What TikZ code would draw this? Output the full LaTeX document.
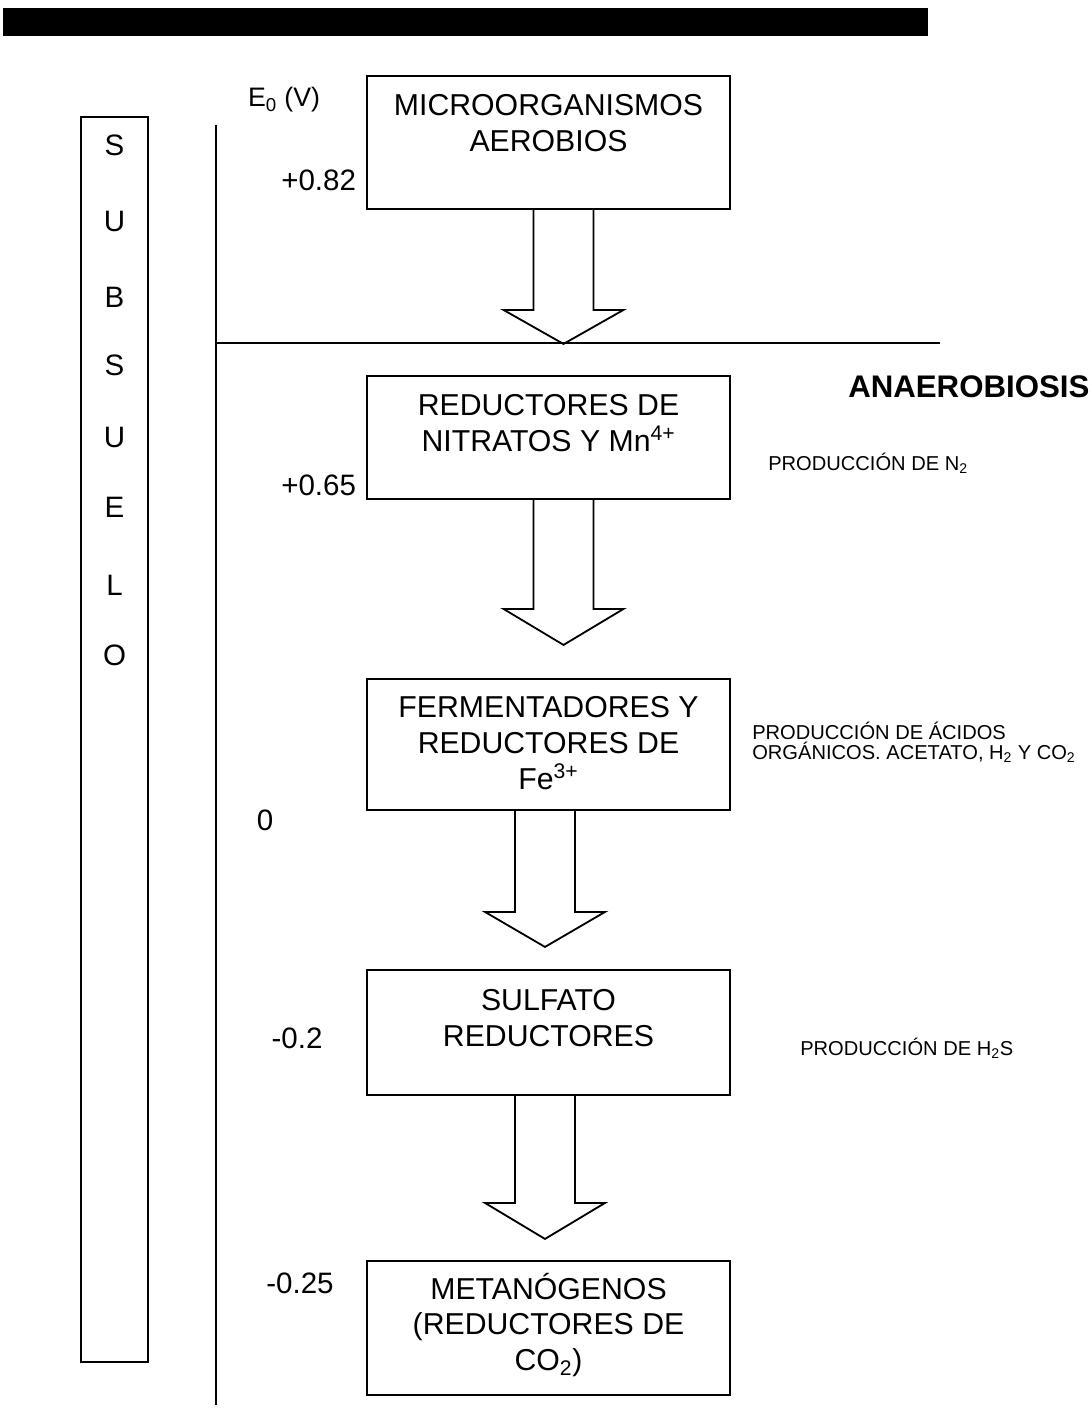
\documentclass[tikz,border=0pt]{standalone}
\usepackage{fontspec}
\setmainfont{Liberation Sans}
\usetikzlibrary{calc}

\newcommand{\flecha}[4]{%
  \draw[linea] ($(#1.south)+(#2-30,0)$) -- ++(0,#3) -- ++(-30,0) -- ++(60,#4)
    -- ++(60,-#4) -- ++(-30,0) -- ($(#1.south)+(#2+30,0)$);}

\begin{document}
\begin{tikzpicture}[x=0.025cm,y=-0.025cm,
    linea/.style={line width=1.3pt},
    caja/.style={draw,line width=1.3pt,minimum width=9.075cm},
    rotulo/.style={align=center,font=\fontsize{21.5}{25.5}\selectfont},
    valor/.style={font=\fontsize{21}{25}\selectfont},
    nota/.style={align=left,inner sep=0pt,font=\fontsize{14.3}{14.5}\selectfont}]
    \useasboundingbox (0,0) rectangle (1091,1412);
    \fill[black] (3,8) rectangle (928,36);

    \draw[linea] (216,125) -- (216,1405);
    \draw[linea] (216,343) -- (940,343);
    \node[font=\fontsize{19}{21}\selectfont] (eje) at (284,100) {E\textsubscript{0} (V)};

    \node[draw,linea,minimum width=1.675cm,minimum height=31.125cm] (subsuelo) at (114.5,739.5) {};
    \foreach \letra/\y in {S/145,U/221,B/297,S/365,U/437,E/507,L/585,O/655}
        \node[font=\fontsize{21}{23}\selectfont] at (114.5,\y) {\letra};

    \node[caja,minimum height=3.325cm] (m1) at (548.5,142.5) {};
    \node[rotulo] (m1t) at (548.5,123.5) {MICROORGANISMOS\\AEROBIOS};
    \node[valor,anchor=east] (v1) at (361,180) {+0.82};

    \node[caja,minimum height=3.075cm] (m2) at (548.5,437.5) {};
    \node[rotulo] (m2t) at (548.5,423) {REDUCTORES DE\\NITRATOS Y Mn\textsuperscript{4+}};
    \node[valor,anchor=east] (v2) at (361,485) {+0.65};

    \node[caja,minimum height=3.275cm] (m3) at (548.5,744.5) {};
    \node[rotulo] (m3t) at (548.5,743) {FERMENTADORES Y\\REDUCTORES DE\\Fe\textsuperscript{3+}};
    \node[valor] (v3) at (265,820) {0};

    \node[caja,minimum height=3.125cm] (m4) at (548.5,1032.5) {};
    \node[rotulo] (m4t) at (548.5,1018) {SULFATO\\REDUCTORES};
    \node[valor] (v4) at (297,1038) {-0.2};

    \node[caja,minimum height=3.35cm] (m5) at (548.5,1328) {};
    \node[rotulo] (m5t) at (548.5,1325) {METANÓGENOS\\(REDUCTORES DE\\CO\textsubscript{2})};
    \node[valor] (v5) at (300,1283) {-0.25};

    \flecha{m1}{15}{100}{34}
    \flecha{m2}{15}{109}{36}
    \flecha{m3}{-3.5}{101}{35}
    \flecha{m4}{-3.5}{107}{36}

    \node[anchor=west,inner sep=0pt,font=\bfseries\fontsize{22.2}{25}\selectfont] (anaer) at (848,387) {ANAEROBIOSIS};
    \node[nota,anchor=west] (p1) at (768,463) {PRODUCCIÓN DE N\textsubscript{2}};
    \node[nota,anchor=west] (p2) at (752,742) {PRODUCCIÓN DE ÁCIDOS\\ORGÁNICOS. ACETATO, H\textsubscript{2} Y CO\textsubscript{2}};
    \node[nota,anchor=west] (p3) at (800,1048) {PRODUCCIÓN DE H\textsubscript{2}S};
\end{tikzpicture}
\end{document}
